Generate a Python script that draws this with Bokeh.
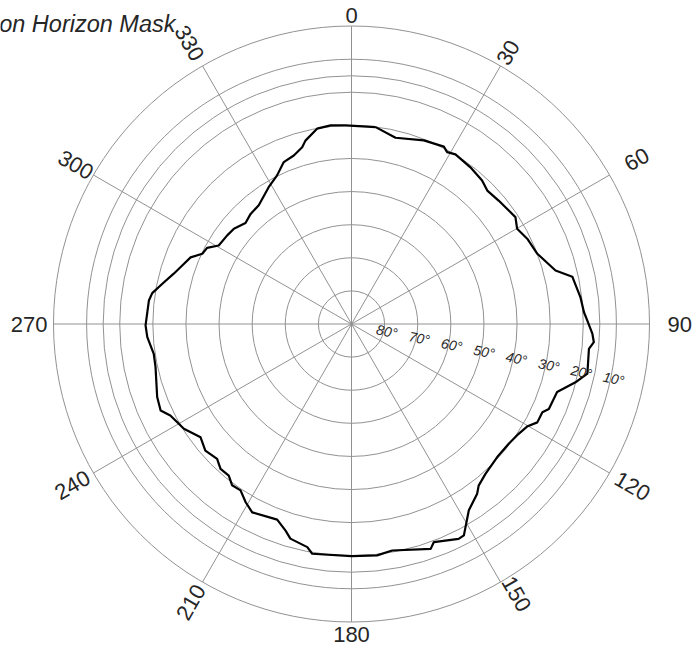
import numpy as np
from bokeh.plotting import figure
from bokeh.models import Range1d
from bokeh.core.properties import value
from bokeh.embed import file_html
from bokeh.resources import INLINE

# ---- data ----
title_text = "Elevation Horizon Mask"
ring_elevations = [0, 10, 15, 20, 30, 40, 50, 60, 70, 80]
ring_label_values = [80, 70, 60, 50, 40, 30, 20, 10]
spoke_azimuths = [0, 30, 60, 90, 120, 150, 180, 210, 240, 270, 300, 330]
azimuth_labels = ["0", "30", "60", "90", "120", "150", "180", "210", "240", "270", "300", "330"]

mask_az = [7.0, 13.3, 21.5, 27.5, 29.1, 31.5, 37.2, 42.3, 45.5, 50.0, 56.9, 60.1, 64.1, 69.3,
           75.3, 77.9, 83.3, 87.1, 89.1, 92.3, 94.3, 96.0, 101.9, 104.6, 108.3, 113.3, 114.8,
           117.9, 120.3, 123.3, 127.3, 132.4, 138.2, 141.8, 143.5, 147.8, 152.0, 153.5, 159.3,
           160.6, 169.8, 173.7, 180.0, 189.7, 191.2, 195.9, 197.7, 200.8, 207.8, 210.7, 213.7,
           216.5, 219.0, 222.1, 224.9, 229.1, 233.1, 238.0, 240.6, 243.2, 245.6, 249.4, 257.6,
           261.4, 266.3, 269.6, 276.6, 278.8, 282.0, 285.8, 289.7, 292.5, 295.2, 297.8, 300.6,
           305.5, 309.0, 313.6, 317.5, 322.0, 328.8, 333.4, 337.3, 341.1, 344.4, 345.9, 350.0,
           354.0, 358.3]
mask_el = [30.1, 32.2, 30.4, 29.6, 30.6, 29.9, 30.6, 31.4, 32.5, 32.0, 30.9, 32.3, 31.0, 30.0,
           26.3, 21.8, 20.4, 19.7, 18.8, 17.2, 16.6, 17.9, 17.2, 20.1, 24.6, 25.1, 26.5,
           26.5, 28.6, 29.6, 30.3, 30.4, 29.3, 27.9, 26.2, 23.5, 17.7, 17.5, 19.6,
           18.0, 20.5, 19.7, 19.9, 19.6, 21.3, 22.6, 24.5, 26.8, 25.7, 27.4, 29.6,
           29.4, 31.1, 31.0, 32.5, 31.6, 33.0, 30.3, 29.6, 28.7, 26.7, 27.3, 29.4,
           29.6, 28.2, 27.8, 28.4, 29.1, 31.6, 34.2, 36.2, 37.4, 40.2, 40.7, 43.4,
           43.9, 44.3, 45.8, 44.9, 44.5, 41.7, 39.8, 37.0, 36.2, 34.6, 32.9, 30.1,
           29.7, 30.0]

# ---- geometry / style ----
W, H = 695, 646
CX, CY = 351, 323.5        # canvas position of the pole
R = 298.0                  # radius of the 0 deg elevation ring (px)
K = R / 90.0
LABEL_GAP = {0: 3.5, 30: 3, 60: 19, 90: 18, 120: 8, 150: 0, 180: 5,
             210: 5, 240: 6, 270: 6, 300: 2, 330: 8}
LABEL_TURN = {150: -1.5}


def rad(el):
    return (90.0 - np.asarray(el, dtype=float)) * K


def polar(az, r):
    a = np.radians(np.asarray(az, dtype=float))
    return r * np.sin(a), r * np.cos(a)


p = figure(width=W, height=H, x_range=Range1d(-CX, W - CX), y_range=Range1d(-(H - CY), CY),
           output_backend="svg", toolbar_location=None, min_border=0)
p.xaxis.visible = False
p.yaxis.visible = False
p.grid.visible = False
p.outline_line_color = None
p.title.visible = False
p.background_fill_color = "white"

GRID = "#929292"

# rings
rr = rad(ring_elevations)
p.circle(x=[0] * len(rr), y=[0] * len(rr), radius=list(rr), fill_color=None,
         line_color=GRID, line_width=1)

# spokes
sx, sy = polar(spoke_azimuths, R)
p.segment(x0=[0] * len(sx), y0=[0] * len(sx), x1=list(sx), y1=list(sy),
          line_color=GRID, line_width=1)

# horizon mask curve
az_c = np.concatenate([mask_az, [mask_az[0] + 360.0]])
el_c = np.concatenate([mask_el, [mask_el[0]]])
mx, my = polar(az_c, rad(el_c))
p.line(list(mx), list(my), line_color="black", line_width=2.2, line_join="round")

# elevation ring labels along a slanted ray
LAB_AZ = 101.8
lr = rad(ring_label_values) + 3
lx, ly = polar([LAB_AZ] * len(lr), lr)
p.text(x=list(lx), y=list(ly), text=[f"{v}\u00b0" for v in ring_label_values],
       angle=np.radians(90 - LAB_AZ), text_align="center", text_baseline="middle",
       text_font=value("Liberation Sans"), text_font_style="italic",
       text_font_size="14px", text_color="#262626")

# azimuth labels
for az, lab in zip(spoke_azimuths, azimuth_labels):
    g = LABEL_GAP[az]
    if az == 0:
        ang, al, bl = 0.0, "center", "bottom"
    elif az == 180:
        ang, al, bl = 0.0, "center", "top"
    elif az == 90:
        ang, al, bl = 0.0, "left", "middle"
    elif az == 270:
        ang, al, bl = 0.0, "right", "middle"
    else:
        theta = 90.0 - az
        if az < 180:
            al = "left"
        else:
            theta += 180.0
            al = "right"
        theta = (theta + 180.0) % 360.0 - 180.0
        ang, bl = np.radians(theta), "middle"
    x, y = polar(az + LABEL_TURN.get(az, 0.0), R + g)
    p.text(x=[float(x)], y=[float(y)], text=[lab], angle=ang, text_align=al, text_baseline=bl,
           text_font=value("Liberation Sans"), text_font_size="22px", text_color="#262626")

# title (runs off the left edge as in the original)
p.text(x=[175 - CX], y=[CY - 23.3], text=[title_text], text_align="right",
       text_baseline="alphabetic", text_font=value("Liberation Sans"),
       text_font_style="italic", text_font_size="23.5px", text_color="#262626")

open("out.html", "w").write(file_html(p, INLINE))
